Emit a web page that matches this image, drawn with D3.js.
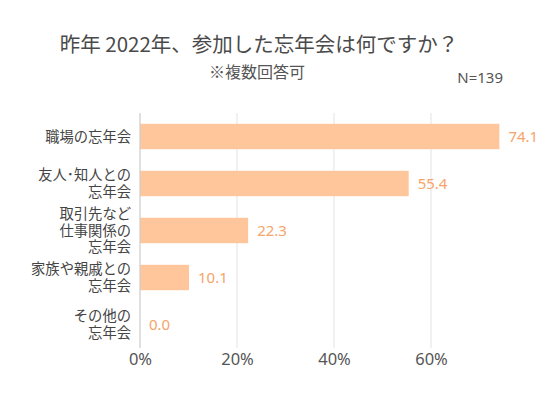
<!DOCTYPE html>
<html><head><meta charset="utf-8">
<script src="https://cdn.jsdelivr.net/npm/d3@7"></script>
<style>body{margin:0;background:#fff;} svg{display:block;font-family:"Noto Sans CJK JP","Noto Sans",sans-serif;}</style>
</head><body>
<svg id="c" width="560" height="398"></svg>
<script>
const categories = [["職場の忘年会"],["友人･知人との","忘年会"],["取引先など","仕事関係の","忘年会"],["家族や親戚との","忘年会"],["その他の","忘年会"]];
const values = [74.1, 55.4, 22.3, 10.1, 0.0];
const tickValues = [0, 20, 40, 60];
const title = "昨年 2022年、参加した忘年会は何ですか？";
const subtitle = "※複数回答可";
const nLabel = "N=139";

const svg = d3.select("#c");
const x = d3.scaleLinear().domain([0, 100]).range([140, 625]);
const y = d3.scaleBand().domain(d3.range(values.length)).range([113, 348]).paddingInner(0.46).paddingOuter(0.23);

svg.append("text").attr("x", 259).attr("y", 45).attr("dy","0.36em").attr("text-anchor","middle").attr("font-size",20.5).attr("font-weight",400).attr("fill","#4a4a4a").text(title);
svg.append("text").attr("x", 257).attr("y", 72).attr("dy","0.36em").attr("text-anchor","middle").attr("font-size",16).attr("fill","#555").text(subtitle);
svg.append("text").attr("x", 503).attr("y", 78).attr("dy","0.36em").attr("text-anchor","end").attr("font-size",15).attr("fill","#555").style("font-family",'"Noto Sans",sans-serif').text(nLabel);

// grid
svg.append("g").selectAll("line").data(tickValues.filter(d=>d>0)).join("line")
  .attr("x1", d=>x(d)).attr("x2", d=>x(d)).attr("y1",113).attr("y2",348)
  .attr("stroke","#e3e3e3").attr("stroke-width",1);

// bars
svg.append("g").selectAll("rect").data(values).join("rect")
  .attr("x", x(0)).attr("y",(d,i)=>y(i)).attr("width", d=>x(d)-x(0)).attr("height", y.bandwidth())
  .attr("fill","#ffc69c");

// axis line
svg.append("line").attr("x1",x(0)).attr("x2",x(0)).attr("y1",113).attr("y2",348).attr("stroke","#ccc").attr("stroke-width",1.2);

// x tick labels
const xAxis = d3.axisBottom(x).tickValues(tickValues).tickFormat(d=>d+"%").tickSize(0).tickPadding(0);
const gx = svg.append("g").attr("transform","translate(0,349)").call(xAxis);
gx.select(".domain").remove();
gx.selectAll("text").attr("font-size",16.5).attr("fill","#555").attr("dy","0.95em").style("font-family",'"Noto Sans","Noto Sans CJK JP",sans-serif');

// values
svg.append("g").selectAll("text").data(values).join("text")
  .attr("x", d=>x(d)+9).attr("y",(d,i)=>y(i)+y.bandwidth()/2).attr("dy","0.35em")
  .attr("font-size",15).attr("fill","#f7a469").style("font-family",'"Noto Sans",sans-serif')
  .text(d=>d.toFixed(1));

// category labels
const lh = 16.5;
const gl = svg.append("g");
categories.forEach((lines,i)=>{
  const cy = y(i)+y.bandwidth()/2;
  lines.forEach((ln,j)=>{
    gl.append("text").attr("text-anchor","end").attr("font-size",14.3).attr("fill","#444")
      .attr("x",131).attr("y", cy + (j-(lines.length-1)/2)*lh).attr("dy","0.36em").text(ln);
  });
});
</script>
</body></html>
